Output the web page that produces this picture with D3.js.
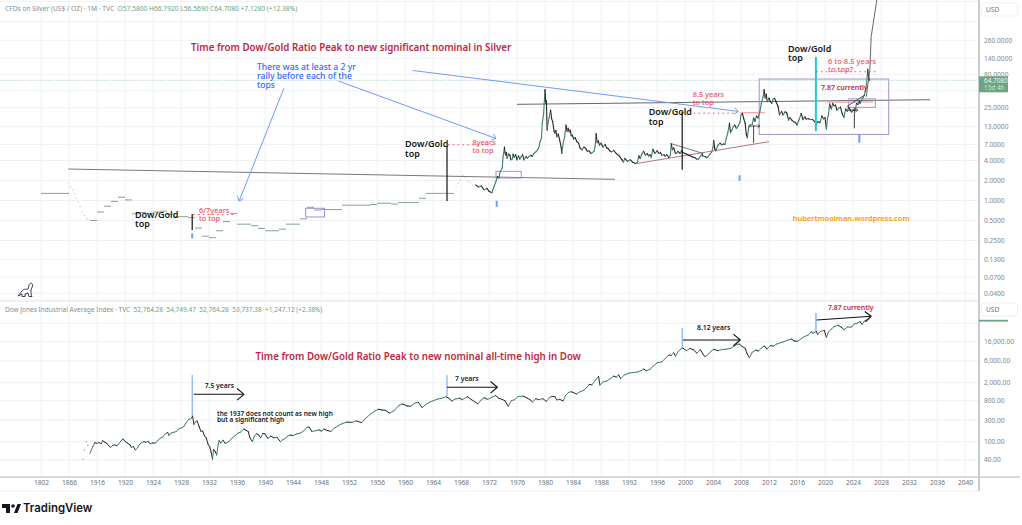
<!DOCTYPE html>
<html>
<head>
<meta charset="utf-8">
<script src="https://cdn.jsdelivr.net/npm/d3@7"></script>
<style>
  body { margin: 0; background: #fff; }
  text { font-family: "Noto Sans", sans-serif; }
</style>
</head>
<body>
<div class="canvas"></div>
<script>
// time axis: tick position (in years) and printed label
const yearTicks = d3.range(1908, 2041, 4);
const yearLabels = ["1802", "1866"].concat(d3.range(1916, 2041, 4).map(String));

const silverTicks = [260, 140, 80, 25, 13, 7, 4, 2, 1, 0.5, 0.25, 0.13, 0.07, 0.04];
const silverGrid = [1000, 500, 260, 140, 80, 45, 25, 13, 7, 4, 2, 1, 0.5, 0.25, 0.13, 0.07, 0.04];
const dowTicks = [16000, 6000, 2000, 800, 300, 100, 40];
const dowGrid = [40000, 16000, 6000, 2000, 800, 300, 100, 40];

// silver before 1970 only shows as yearly dashes: [from, to, price]
const silverDashes = [
  [1908, 1912, 1.28], [1915, 1916, 0.5], [1916, 1917, 0.67], [1917, 1918, 0.82],
  [1918, 1919, 0.97], [1919, 1920, 1.12], [1920, 1921, 1.02], [1921, 1922, 0.63],
  [1922, 1923, 0.66], [1923, 1924, 0.64], [1924, 1925, 0.67], [1925, 1926, 0.69],
  [1926, 1927, 0.62], [1927, 1928, 0.57], [1928, 1929, 0.57], [1929, 1930, 0.55],
  [1930, 1931, 0.385], [1931, 1932, 0.29], [1932, 1933, 0.275], [1933, 1934, 0.35],
  [1934, 1935, 0.48], [1935, 1936, 0.64], [1936, 1938, 0.44], [1938, 1939, 0.417],
  [1939, 1940, 0.38], [1940, 1942, 0.35], [1942, 1943, 0.37], [1943, 1945, 0.44],
  [1945, 1946, 0.53], [1946, 1947, 0.79], [1947, 1948, 0.72], [1948, 1949, 0.73],
  [1949, 1951, 0.73], [1951, 1955, 0.85], [1955, 1956, 0.87], [1956, 1958, 0.91],
  [1958, 1959, 0.885], [1959, 1962, 0.93], [1962, 1963, 1.08], [1963, 1967, 1.28]
];
const silverDots = [
  [1911.9, 1.85], [1912.2, 1.62], [1912.5, 1.44], [1912.8, 1.25], [1913, 1.08], [1913.3, 0.95],
  [1913.6, 0.81], [1913.9, 0.68], [1914.2, 0.6], [1914.5, 0.55], [1914.7, 0.52],
  [1967.3, 1.61], [1967.6, 1.8], [1967.9, 2.03], [1968.3, 2.42], [1968.6, 2.25],
  [1969, 1.97], [1969.3, 1.85], [1969.6, 1.7]
];
// silver monthly-ish readings: [year, price]
const silverPrices = [
  [1970.1, 1.72], [1970.5, 1.6], [1970.9, 1.65], [1971.3, 1.45], [1971.7, 1.52], [1972, 1.38], [1972.4, 1.31],
  [1972.7, 1.6], [1973, 1.95], [1973.2, 2.3], [1973.4, 2.2], [1973.6, 2.7], [1973.9, 3.1], [1974, 4.5], [1974.1, 5.2],
  [1974.2, 6.4], [1974.3, 5.2], [1974.4, 4.8], [1974.5, 5.3], [1974.6, 4.3], [1974.8, 5], [1975, 4.8], [1975.1, 4.1],
  [1975.3, 4.2], [1975.45, 5], [1975.6, 4.5], [1975.8, 4.9], [1976, 4.1], [1976.2, 4.7], [1976.4, 4.2], [1976.6, 4.6],
  [1976.8, 4.9], [1977, 4.1], [1977.3, 4.6], [1977.5, 4.3], [1977.7, 4.6], [1978, 4.8], [1978.2, 4.6], [1978.4, 5.1],
  [1978.7, 5.4], [1978.9, 5.7], [1979.1, 6.2], [1979.3, 7.7], [1979.5, 8.8], [1979.6, 14.5], [1979.8, 20], [1980, 47],
  [1980.1, 29], [1980.2, 32], [1980.3, 11.5], [1980.45, 15], [1980.6, 18], [1980.8, 23], [1980.95, 17], [1981.1, 15.4],
  [1981.3, 11], [1981.4, 10.3], [1981.55, 11.4], [1981.7, 9.1], [1981.9, 10], [1982.1, 8.1], [1982.3, 6.4], [1982.4, 5.1],
  [1982.6, 7.4], [1982.8, 9.1], [1983, 13.7], [1983.15, 11], [1983.3, 12.3], [1983.45, 10.8], [1983.6, 11.5], [1983.75, 9.4],
  [1983.9, 9.7], [1984.1, 8.4], [1984.3, 8.9], [1984.55, 7.7], [1984.8, 7.3], [1985, 6.2], [1985.3, 5.8], [1985.55, 6.4],
  [1985.8, 6.1], [1986.05, 5.5], [1986.3, 5.6], [1986.55, 5.1], [1986.8, 5.3], [1987, 5.5], [1987.15, 6.5], [1987.3, 10.2],
  [1987.45, 7.4], [1987.6, 8], [1987.8, 6.8], [1988, 7.3], [1988.3, 6.4], [1988.6, 7], [1988.8, 6.2], [1989, 6.1],
  [1989.25, 5.6], [1989.5, 5.4], [1989.8, 5.7], [1990.2, 5.1], [1990.6, 4.7], [1991, 4.1], [1991.2, 3.8], [1991.4, 4.3],
  [1991.8, 3.9], [1992.2, 4.1], [1992.5, 3.8], [1992.9, 3.6], [1993.2, 3.8], [1993.4, 4.7], [1993.6, 4.3], [1993.85, 5.1],
  [1994.1, 5.5], [1994.35, 4.8], [1994.6, 5.1], [1994.8, 4.7], [1995, 4.9], [1995.2, 4.5], [1995.4, 5.9], [1995.7, 5.1],
  [1996, 5.6], [1996.3, 5.1], [1996.5, 5.3], [1996.7, 4.8], [1997, 4.9], [1997.2, 4.6], [1997.4, 4.9], [1997.7, 4.4],
  [1997.9, 4.8], [1998.05, 7.1], [1998.2, 5.8], [1998.4, 6.2], [1998.6, 5.2], [1998.8, 5.1], [1999, 5.5], [1999.3, 5.1],
  [1999.5, 5.6], [1999.7, 5.3], [2000, 5.1], [2000.25, 5], [2000.5, 4.8], [2000.8, 4.7], [2001.1, 4.5], [2001.4, 4.45],
  [2001.65, 4.2], [2001.9, 4.2], [2002.2, 4.6], [2002.45, 5], [2002.6, 4.6], [2002.9, 4.6], [2003.1, 4.4], [2003.3, 4.6],
  [2003.55, 5], [2003.8, 5.3], [2004, 6.3], [2004.1, 8], [2004.25, 6], [2004.4, 5.6], [2004.7, 6.8], [2005, 7.3],
  [2005.25, 6.9], [2005.5, 7.1], [2005.7, 7], [2005.9, 8.7], [2006.1, 10.3], [2006.35, 14.5], [2006.5, 10.5], [2006.7, 11.5],
  [2006.9, 13], [2007.1, 13.7], [2007.35, 12.2], [2007.6, 13.4], [2007.85, 15], [2008, 19.4], [2008.2, 20.5], [2008.4, 17],
  [2008.6, 14.5], [2008.75, 10], [2008.9, 8.8], [2009.1, 12.5], [2009.3, 13.7], [2009.6, 14], [2009.8, 17.5], [2010, 15.5],
  [2010.2, 18.7], [2010.45, 17.6], [2010.7, 22], [2010.9, 29], [2011.15, 36], [2011.3, 47], [2011.45, 35], [2011.6, 40],
  [2011.75, 30.7], [2012, 35], [2012.2, 31], [2012.4, 29], [2012.6, 34], [2012.8, 34.5], [2013, 31], [2013.3, 26],
  [2013.5, 19.4], [2013.8, 22], [2014, 19.4], [2014.3, 21.7], [2014.55, 20.8], [2014.8, 16.3], [2015, 17.8], [2015.25, 16.3],
  [2015.5, 15.4], [2015.8, 15], [2016, 13.7], [2016.3, 16.5], [2016.6, 20.5], [2016.85, 16.5], [2017.1, 18.2], [2017.35, 16.7],
  [2017.6, 17.2], [2017.8, 16.6], [2018.2, 16.7], [2018.6, 15.2], [2018.8, 14.4], [2019, 15.4], [2019.3, 14.9], [2019.55, 18.8],
  [2019.8, 17], [2020, 17.8], [2020.2, 12], [2020.35, 17.2], [2020.5, 19.4], [2020.65, 28.5], [2020.9, 24], [2021.1, 29],
  [2021.3, 26.5], [2021.5, 27.5], [2021.7, 23], [2021.95, 24.5], [2022.2, 25.5], [2022.45, 20.5], [2022.7, 18], [2022.95, 23.8],
  [2023.2, 22], [2023.35, 25.5], [2023.6, 23], [2023.8, 21.5], [2024.05, 23], [2024.3, 22.5], [2024.5, 29], [2024.7, 28],
  [2024.9, 31.5], [2025, 29], [2025.2, 32], [2025.45, 36], [2025.65, 39], [2025.8, 48], [2025.95, 58], [2026.1, 95],
  [2026.2, 76], [2026.35, 64.7]
];

// dow readings: [year, index]
const dowPrices = [
  [1915, 55.6], [1915.4, 78], [1915.7, 95], [1916, 92], [1916.3, 96], [1916.6, 90], [1916.8, 105], [1917.1, 98], [1917.4, 92], [1917.9, 75],
  [1918.2, 82], [1918.5, 85], [1918.8, 82], [1919, 85], [1919.4, 103], [1919.7, 115], [1920, 102], [1920.4, 92], [1920.7, 86], [1920.9, 75],
  [1921.2, 78], [1921.5, 66], [1921.8, 74], [1922, 84], [1922.3, 94], [1922.7, 100], [1923, 97], [1923.3, 102], [1923.6, 90], [1923.9, 94],
  [1924.3, 93], [1924.7, 106], [1925, 118], [1925.4, 127], [1925.8, 152], [1926.1, 158], [1926.3, 138], [1926.6, 155], [1926.9, 160], [1927.3, 166],
  [1927.7, 192], [1928, 200], [1928.4, 215], [1928.7, 254], [1929.1, 310], [1929.4, 320], [1929.65, 367], [1929.85, 240], [1930.1, 275], [1930.3, 285],
  [1930.6, 213], [1930.85, 168], [1931.1, 172], [1931.35, 135], [1931.6, 122], [1931.9, 85], [1932.1, 78], [1932.3, 60], [1932.5, 41], [1932.65, 68],
  [1932.9, 60], [1933.1, 51], [1933.3, 85], [1933.45, 105], [1933.7, 94], [1934, 108], [1934.3, 92], [1934.6, 95], [1934.9, 103], [1935.3, 120],
  [1935.7, 135], [1936.1, 153], [1936.5, 162], [1937, 190], [1937.3, 178], [1937.6, 168], [1937.85, 122], [1938.2, 100], [1938.5, 134], [1938.8, 150],
  [1939.1, 140], [1939.4, 122], [1939.7, 152], [1940, 148], [1940.4, 118], [1940.8, 132], [1941.3, 122], [1941.7, 125], [1942.2, 100], [1942.5, 110],
  [1942.9, 118], [1943.2, 132], [1943.6, 140], [1944, 137], [1944.5, 148], [1945.1, 155], [1945.6, 178], [1946, 205], [1946.3, 210], [1946.7, 168],
  [1947.2, 174], [1947.7, 182], [1948.1, 170], [1948.4, 190], [1948.9, 177], [1949.4, 168], [1949.9, 198], [1950.5, 226], [1951, 248], [1951.7, 270],
  [1952.4, 266], [1953.1, 285], [1953.8, 262], [1954.4, 330], [1955.1, 408], [1955.6, 465], [1956.2, 515], [1956.7, 498], [1957.2, 490], [1957.8, 425],
  [1958.4, 475], [1959.1, 620], [1959.6, 675], [1960.3, 610], [1960.8, 600], [1961.4, 700], [1961.9, 735], [1962.45, 560], [1962.9, 640], [1963.4, 725],
  [1964, 790], [1964.6, 860], [1965.2, 900], [1965.9, 975], [1966.3, 890], [1966.7, 780], [1967.2, 870], [1967.8, 900], [1968.2, 840], [1968.9, 975],
  [1969.5, 840], [1970.4, 680], [1970.9, 830], [1971.3, 925], [1971.8, 850], [1972.4, 950], [1972.95, 1030], [1973.4, 900], [1973.9, 850], [1974.3, 790],
  [1974.75, 600], [1975.2, 800], [1975.6, 830], [1976.2, 985], [1976.9, 1000], [1977.4, 920], [1977.9, 830], [1978.2, 745], [1978.7, 880], [1979.1, 840],
  [1979.7, 880], [1980.2, 770], [1980.7, 950], [1981, 990], [1981.4, 980], [1981.7, 830], [1982.1, 850], [1982.6, 790], [1982.95, 1040], [1983.4, 1220],
  [1983.8, 1250], [1984.5, 1120], [1985, 1250], [1985.5, 1340], [1986, 1570], [1986.3, 1800], [1986.7, 1780], [1987.2, 2240], [1987.65, 2700], [1987.85, 1760],
  [1988.3, 2050], [1988.8, 2150], [1989.3, 2400], [1989.8, 2760], [1990.2, 2620], [1990.5, 2950], [1990.8, 2430], [1991.3, 2900], [1992, 3220], [1992.6, 3300],
  [1993.2, 3400], [1993.8, 3680], [1994.1, 3950], [1994.5, 3620], [1995, 3920], [1995.5, 4650], [1996, 5400], [1996.7, 5700], [1997.2, 6800], [1997.7, 8000],
  [1998, 7900], [1998.4, 9000], [1998.65, 7600], [1999, 9400], [1999.4, 10900], [1999.7, 11400], [2000.2, 10000], [2000.7, 11200], [2001.2, 10500], [2001.7, 8800],
  [2002.2, 10500], [2002.6, 8200], [2002.85, 7400], [2003.2, 8000], [2003.7, 9600], [2004.1, 10700], [2004.7, 10000], [2005.3, 10600], [2005.9, 10800], [2006.5, 11200],
  [2006.9, 12300], [2007.4, 13700], [2007.75, 14000], [2008.2, 12300], [2008.6, 11300], [2008.85, 8800], [2009.2, 7000], [2009.6, 9200], [2010.1, 10300], [2010.5, 9800],
  [2011, 11800], [2011.35, 12700], [2011.7, 10900], [2012.2, 12900], [2012.6, 12600], [2013.1, 14000], [2013.7, 15100], [2014.1, 15700], [2014.6, 16900], [2015.2, 18000],
  [2015.65, 16300], [2016.1, 16100], [2016.6, 18400], [2017.1, 20600], [2017.6, 22000], [2018.05, 26100], [2018.25, 24100], [2018.75, 26500], [2018.95, 23000], [2019.4, 26600],
  [2019.9, 28000], [2020.2, 19500], [2020.5, 25800], [2020.9, 29800], [2021.3, 33800], [2021.9, 36000], [2022.3, 33000], [2022.75, 29000], [2023.2, 33000], [2023.8, 33000],
  [2024.2, 39000], [2024.6, 40000], [2025, 43500], [2025.3, 37800], [2025.7, 46000], [2026, 48000], [2026.35, 53737]
];
const dowDots = [[1914, 41], [1914.2, 66], [1914.5, 100], [1914.7, 84]];

const W = 1022, H = 525;
const axisX = 979, timeY = 477;

const svg = d3.select(".canvas").append("svg").attr("width", W).attr("height", H).style("display", "block");

const x = d3.scaleLinear().domain([1908, 2040]).range([41, 965]);
const silverY = d3.scaleLog().domain([1, 260]).range([200.5, 40.2]);
const dowY = d3.scaleLog().domain([100, 16000]).range([441.7, 341.4]);

// grid
const grid = svg.append("g").attr("stroke", "#eff1f4").attr("stroke-width", 1);
yearTicks.forEach((y) => {
  grid.append("line").attr("x1", x(y)).attr("x2", x(y)).attr("y1", 0).attr("y2", timeY);
});
silverGrid.forEach((v) => {
  grid.append("line").attr("x1", 0).attr("x2", axisX).attr("y1", silverY(v)).attr("y2", silverY(v));
});
dowGrid.forEach((v) => {
  grid.append("line").attr("x1", 0).attr("x2", axisX).attr("y1", dowY(v)).attr("y2", dowY(v));
});

// pane separator and frame
svg.append("rect").attr("x", 0).attr("y", 299.5).attr("width", axisX).attr("height", 2.5).attr("fill", "#f0f1f4");
svg.append("line").attr("x1", 0).attr("x2", 1020).attr("y1", timeY).attr("y2", timeY).attr("stroke", "#b4b6bb").attr("stroke-width", 1);
svg.append("line").attr("x1", 0).attr("x2", axisX).attr("y1", 491).attr("y2", 491).attr("stroke", "#f0f1f4").attr("stroke-width", 1);
svg.append("rect").attr("x", axisX - 1).attr("y", 0).attr("width", 2).attr("height", 491).attr("fill", "#c9cbd0");

// axes
const timeAxis = d3.axisBottom(x).tickValues(yearTicks).tickSize(0).tickPadding(3)
  .tickFormat((d, i) => yearLabels[i]);
const gTime = svg.append("g").attr("transform", `translate(0,${timeY})`).call(timeAxis);
gTime.select(".domain").remove();
gTime.selectAll("text").attr("font-size", 6.6).attr("fill", "#6f7278").attr("font-family", "Noto Sans");

const silverAxis = d3.axisRight(silverY).tickValues(silverTicks).tickSize(0).tickPadding(5)
  .tickFormat(d3.format(".4f"));
const gSilver = svg.append("g").attr("transform", `translate(${axisX},0)`).call(silverAxis);
gSilver.select(".domain").remove();
gSilver.selectAll("text").attr("font-size", 6.6).attr("fill", "#85888e").attr("font-family", "Noto Sans");

const dowAxis = d3.axisRight(dowY).tickValues(dowTicks).tickSize(0).tickPadding(5)
  .tickFormat(d3.format(",.2f"));
const gDow = svg.append("g").attr("transform", `translate(${axisX},0)`).call(dowAxis);
gDow.select(".domain").remove();
gDow.selectAll("text").attr("font-size", 6.6).attr("fill", "#85888e").attr("font-family", "Noto Sans");

// small helpers for the drawn annotations, all placed through the scales
function seg(yScale, a, b, color, width, dash) {
  const l = svg.append("line")
    .attr("x1", x(a[0])).attr("y1", yScale(a[1]))
    .attr("x2", x(b[0])).attr("y2", yScale(b[1]))
    .attr("stroke", color).attr("stroke-width", width);
  if (dash) l.attr("stroke-dasharray", dash).attr("stroke-linecap", "round");
  return l;
}
function arrow(yScale, a, b, color, width, size) {
  seg(yScale, a, b, color, width);
  const px = x(b[0]), py = yScale(b[1]);
  const ang = Math.atan2(py - yScale(a[1]), px - x(a[0]));
  [-0.7, 0.7].forEach((o) => {
    svg.append("line").attr("x1", px).attr("y1", py)
      .attr("x2", px - size * Math.cos(ang + o)).attr("y2", py - size * Math.sin(ang + o))
      .attr("stroke", color).attr("stroke-width", width);
  });
}
function box(yScale, a, b, color) {
  svg.append("rect")
    .attr("x", x(a[0])).attr("y", yScale(a[1]))
    .attr("width", x(b[0]) - x(a[0])).attr("height", yScale(b[1]) - yScale(a[1]))
    .attr("fill", "none").attr("stroke", color).attr("stroke-width", 1);
}
function label(px, py, lines, size, color, weight, gap) {
  lines.forEach((t, i) => {
    svg.append("text").attr("x", px).attr("y", py + i * gap).attr("dy", "0.35em")
      .attr("font-size", size).attr("font-weight", weight).attr("fill", color).text(t);
  });
}

const purple = "#a58fd3", blue = "#6f9bfb", lightBlue = "#a9c4fb", redSoft = "#f7525f", titleRed = "#c1283f";

// drawn trend lines under the price
seg(silverY, [1911.9, 2.98], [1990, 2.085], "#77797e", 1);
seg(silverY, [1976, 28.1], [2035, 33], "#66686d", 1);
seg(silverY, [1992.9, 3.58], [2012, 7.7], "#b4767c", 1);
seg(silverY, [1997.9, 7.27], [2002.6, 5.1], "#55575c", 0.8);
box(silverY, [1945.8, 0.763], [1948.5, 0.565], purple);
box(silverY, [1973, 2.75], [1976.6, 2.18], purple);
box(silverY, [2010.6, 67.6], [2029.1, 9.9], purple);
box(silverY, [2023.4, 34], [2027.2, 25.3], purple);
seg(silverY, [2007.9, 21], [2011.4, 21], "#f58a90", 1);
seg(silverY, [2020.3, 30.4], [2026.9, 30.4], "#f58a90", 1);

// last price dotted line
seg(silverY, [1902.2, 64.708], [2045.6, 64.708], "#a9cdb9", 0.8, "0.8 2");

// silver: yearly dashes
svg.append("g").selectAll("line").data(silverDashes).enter().append("line")
  .attr("x1", (d) => x(d[0])).attr("x2", (d) => x(d[1]))
  .attr("y1", (d) => silverY(d[2])).attr("y2", (d) => silverY(d[2]))
  .attr("stroke", "#86a394").attr("stroke-width", 1);
svg.append("g").selectAll("circle").data(silverDots).enter().append("circle")
  .attr("cx", (d) => x(d[0])).attr("cy", (d) => silverY(d[1])).attr("r", 0.55)
  .attr("fill", "#9db3a7");

// price lines, one short segment per reading, coloured by direction
function priceLine(rows, yScale, width) {
  svg.append("g").selectAll("line").data(d3.pairs(rows)).enter().append("line")
    .attr("x1", (d) => x(d[0][0])).attr("y1", (d) => yScale(d[0][1]))
    .attr("x2", (d) => x(d[1][0])).attr("y2", (d) => yScale(d[1][1]))
    .attr("stroke", (d) => (d[1][1] >= d[0][1] ? "#3f7f66" : "#2b2526"))
    .attr("stroke-width", width).attr("stroke-linecap", "round");
}
priceLine(silverPrices, silverY, 1.1);
priceLine(dowPrices, dowY, 1);
svg.append("g").selectAll("circle").data(dowDots).enter().append("circle")
  .attr("cx", (d) => x(d[0])).attr("cy", (d) => dowY(d[1])).attr("r", 0.6).attr("fill", "#8a6f70");

// silver blow-off curve
const curve = [[2025.9, 36.5], [2026.4, 92], [2026.6, 294], [2027.4, 1050]];
svg.append("path").datum(curve)
  .attr("d", d3.line().x((d) => x(d[0])).y((d) => silverY(d[1])))
  .attr("fill", "none").attr("stroke", "#55575c").attr("stroke-width", 0.9);

// verticals on silver
seg(silverY, [1929.6, 0.626], [1929.6, 0.36], "#111", 1.2);
seg(silverY, [1966, 6.6], [1966, 0.98], "#111", 1.2);
seg(silverY, [1999.6, 21.5], [1999.6, 2.9], "#111", 1.2);
seg(silverY, [2018.7, 145], [2018.7, 11.1], "#2ec4d6", 2);
seg(silverY, [2009.8, 13.7], [2009.8, 7.3], "#333", 0.9);
seg(silverY, [2024.2, 25], [2024.2, 12.2], "#333", 0.9);
seg(silverY, [1929.6, 0.32], [1929.6, 0.27], blue, 2);
seg(silverY, [1973.1, 0.99], [1973.1, 0.8], blue, 2);
seg(silverY, [2007.8, 2.4], [2007.8, 1.98], blue, 2);
seg(silverY, [2024.9, 10], [2024.9, 7.4], blue, 2);
seg(silverY, [2023.1, 26], [2025.7, 39], "#333", 0.8);
arrow(silverY, [2009, 13.2], [2010.7, 13.2], "#333", 0.8, 3);
arrow(silverY, [2023.3, 23], [2024.7, 23], "#333", 0.8, 3);

// dotted "to top" markers
seg(silverY, [1929.8, 0.615], [1935.5, 0.615], redSoft, 1, "0.8 4");
seg(silverY, [1966.2, 6.9], [1972.9, 6.9], redSoft, 1, "0.8 4");
seg(silverY, [2001.3, 20.7], [2007.4, 20.7], redSoft, 1, "0.8 4");
seg(silverY, [2018.8, 87], [2027.2, 87], redSoft, 1, "0.8 4");

// blue call-outs
arrow(silverY, [1942.7, 49], [1936.3, 0.98], blue, 1, 5);
arrow(silverY, [1950.5, 63], [1973, 8.6], blue, 1, 5);
arrow(silverY, [1961.1, 91], [2007.6, 22], blue, 1, 5);

// dow annotations
seg(dowY, [1929.6, 2924], [1929.6, 367], blue, 1);
seg(dowY, [1966, 2924], [1966, 1010], blue, 1);
seg(dowY, [1999.6, 31600], [1999.6, 11500], blue, 1);
seg(dowY, [2018.7, 67400], [2018.7, 27100], lightBlue, 2);
arrow(dowY, [1929.8, 1100], [1937, 1100], "#111", 1.1, 9);
arrow(dowY, [1966, 1570], [1973.2, 1570], "#111", 1.1, 9);
arrow(dowY, [1999.7, 17200], [2007.9, 17200], "#111", 1.1, 9);
arrow(dowY, [2018.8, 47300], [2026.6, 57000], "#111", 1.1, 8);

// text on the panes
label(191, 47.5, ["Time from Dow/Gold Ratio Peak to new significant nominal in Silver"], 9.75, titleRed, 600, 0);
label(255.5, 356.7, ["Time from Dow/Gold Ratio Peak to new nominal all-time high in Dow"], 9.75, titleRed, 600, 0);
label(257, 67, ["There was at least a 2 yr", "rally before each of the", "tops"], 8.6, "#2f6bff", 500, 9);
label(135, 214.5, ["Dow/Gold", "top"], 9, "#131722", 600, 9.5);
label(405, 144, ["Dow/Gold", "top"], 9, "#131722", 600, 9.5);
label(648.7, 112, ["Dow/Gold", "top"], 9, "#131722", 600, 9.5);
label(788, 48.5, ["Dow/Gold", "top"], 9, "#131722", 600, 9.5);
label(199, 210, ["6/7years", "to top"], 7.4, redSoft, 500, 8);
label(472.5, 142, ["8years", "to top"], 7.4, redSoft, 500, 8);
label(692.7, 94, ["8.5 years", "to top"], 7.4, redSoft, 500, 8);
label(828, 61.5, ["6 to 8.5 years", "to top?"], 7.6, redSoft, 500, 8);
label(821, 87.5, ["7.87 currently"], 7, titleRed, 600, 0);
label(792.7, 218, ["hubertmoolman.wordpress.com"], 7.45, "#ff9800", 600, 0);
label(204.7, 385.7, ["7.5 years"], 6.8, "#131722", 600, 0);
label(455, 378.7, ["7 years"], 6.8, "#131722", 600, 0);
label(697, 328, ["8.12 years"], 6.8, "#131722", 600, 0);
label(828, 307.7, ["7.87 currently"], 6.8, titleRed, 600, 0);
label(217, 413.3, ["the 1937 does not count as new high", "but a significant high"], 6.5, "#131722", 600, 6.8);

// legends
function legend(py, size, parts) {
  const t = svg.append("text").attr("x", 5).attr("y", py).attr("dy", "0.35em").attr("font-size", size);
  parts.forEach((p) => {
    t.append("tspan").attr("fill", p[1]).attr("xml:space", "preserve").text(p[0]);
  });
}
const legGrey = "#8a8d93", legGreen = "#6d9f86";
legend(9, 6.65, [["CFDs on Silver (US$ / OZ) · 1M · TVC  ", legGrey], ["O57.5800 H66.7920 L56.5690 C64.7080 +7.1280 (+12.38%)", legGreen]]);
legend(309.3, 6.5, [["Dow Jones Industrial Average Index · TVC  ", legGrey], ["52,764.28  54,749.47  52,764.28  53,737.38  +1,247.12 (+2.38%)", legGreen]]);

// price scale furniture
[3, 303].forEach((py) => {
  svg.append("rect").attr("x", 981.5).attr("y", py).attr("width", 36).attr("height", 13).attr("rx", 2)
    .attr("fill", "#fff").attr("stroke", "#f0f1f4");
  svg.append("text").attr("x", 986).attr("y", py + 6.5).attr("dy", "0.35em")
    .attr("font-size", 6.6).attr("fill", "#6f7278").text("USD");
});
svg.append("rect").attr("x", axisX).attr("y", 76.3).attr("width", 29).attr("height", 16).attr("fill", "#6ba583");
svg.append("text").attr("x", 984).attr("y", 81).attr("dy", "0.35em").attr("font-size", 6.4).attr("fill", "#eef6f1").text("64.7080");
svg.append("text").attr("x", 984).attr("y", 88).attr("dy", "0.35em").attr("font-size", 6.4).attr("fill", "#cfe3d8").text("15d 4h");
svg.append("rect").attr("x", axisX).attr("y", 319.8).attr("width", 29).attr("height", 1.8).attr("fill", "#6ba583");

// dino and logo
svg.append("path")
  .attr("d", "M18 296 L22 291 C24 288 27 290 28 289 L29 285 C30 282 33 283 32.5 286 L31 290 C31 293 31 295 32 296.5 L29 296.5 L28 293 L25 294 L25 296.5 L22 296.5 L22 294 Z")
  .attr("fill", "none").attr("stroke", "#2a2e39").attr("stroke-width", 0.9);
svg.append("path").attr("d", "M2 504 H10 V513 H6 V508 H2 Z M14 513 L17.5 504 H21 L17.5 513 Z").attr("fill", "#131722");
svg.append("circle").attr("cx", 13).attr("cy", 506).attr("r", 1.8).attr("fill", "#131722");
svg.append("text").attr("x", 23).attr("y", 508.5).attr("dy", "0.35em")
  .attr("font-size", 11.4).attr("font-weight", 600).attr("fill", "#131722")
  .style("font-family", "Inter").text("TradingView");
</script>
</body>
</html>
